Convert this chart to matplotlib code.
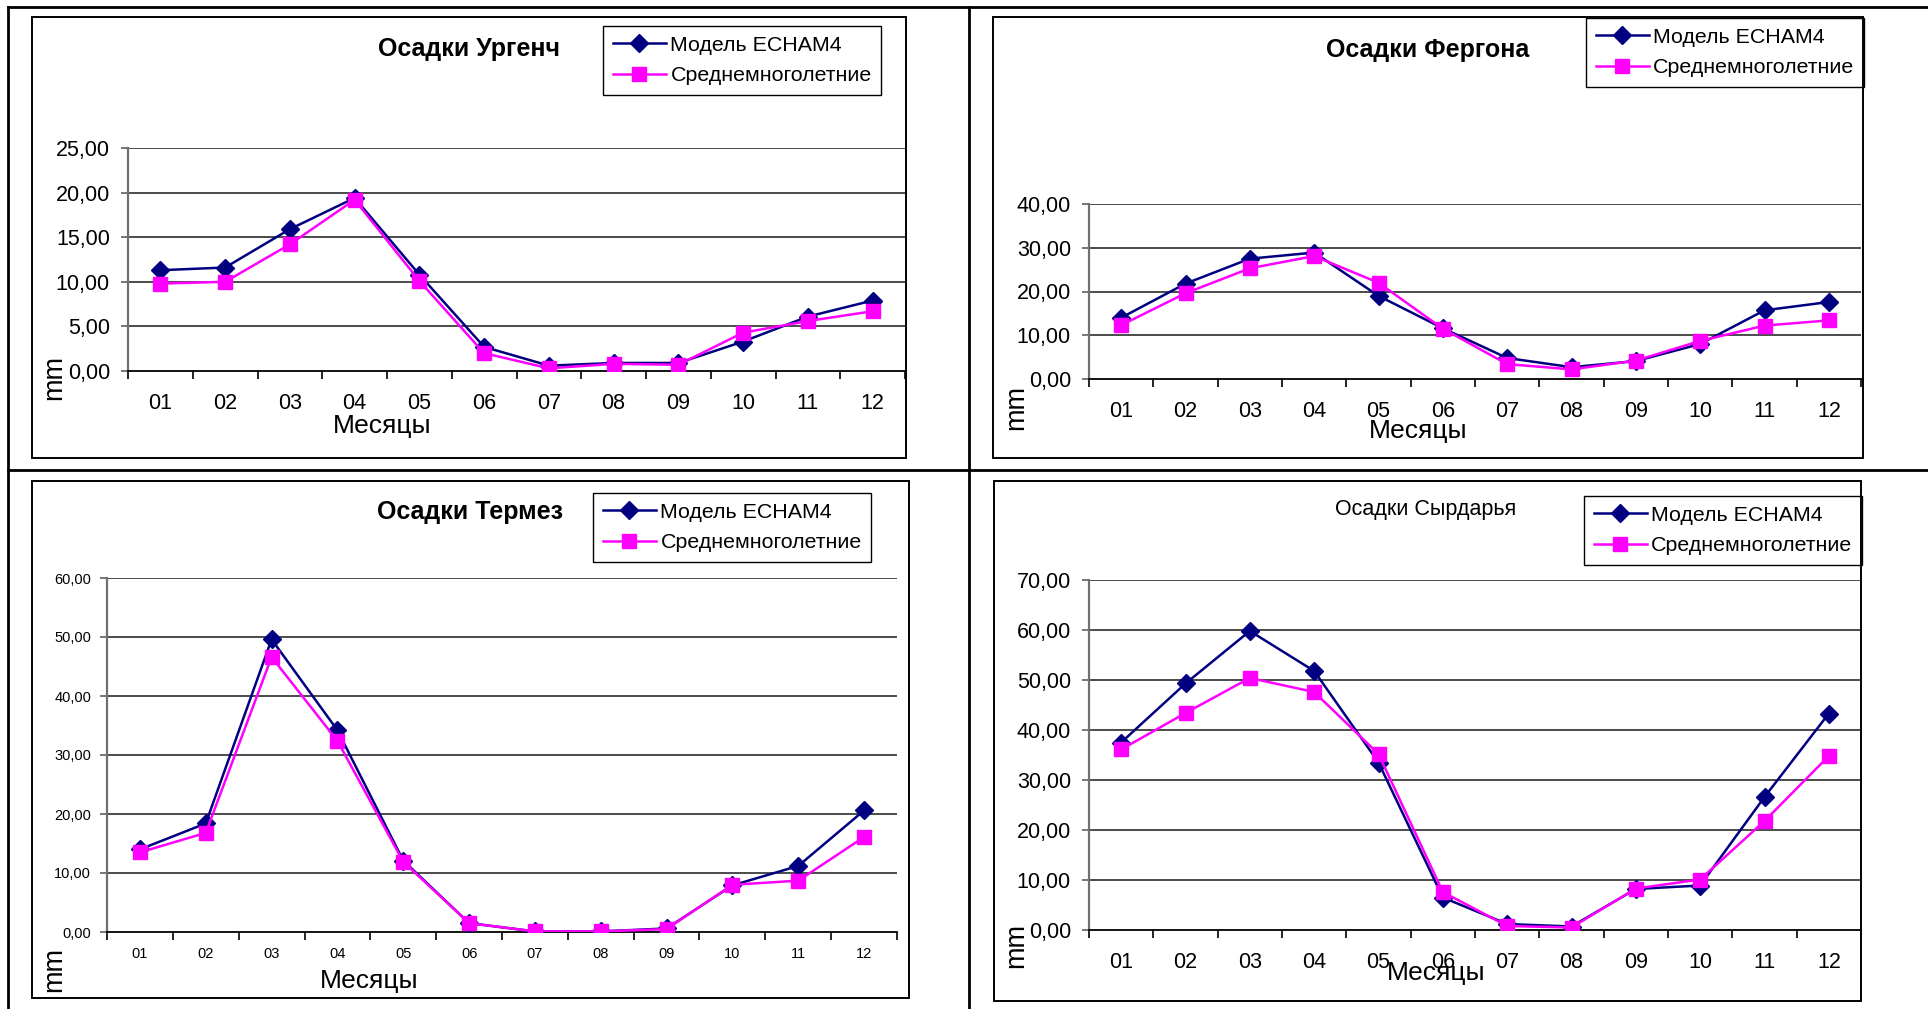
import matplotlib
matplotlib.use("Agg")
import matplotlib.pyplot as plt
from matplotlib.lines import Line2D
from matplotlib.patches import Rectangle
from matplotlib.ticker import FuncFormatter

plt.rcParams['font.family'] = ['Liberation Sans', 'DejaVu Sans']

W, H = 1928, 1009
DPI = 100

months = ["01", "02", "03", "04", "05", "06", "07", "08", "09", "10", "11", "12"]
series_names = ["Модель ECHAM4", "Среднемноголетние"]

urgench_model = [11.3, 11.6, 15.9, 19.4, 10.8, 2.7, 0.6, 0.9, 0.9, 3.3, 6.1, 7.9]
urgench_mean = [9.8, 10.0, 14.2, 19.2, 10.1, 2.0, 0.3, 0.8, 0.7, 4.3, 5.6, 6.7]

fergona_model = [14.0, 21.8, 27.5, 28.9, 19.0, 11.6, 4.8, 2.7, 4.1, 8.0, 15.7, 17.6]
fergona_mean = [12.3, 19.6, 25.3, 28.1, 22.0, 11.5, 3.4, 2.2, 4.2, 8.7, 12.2, 13.4]

termez_model = [14.0, 18.4, 49.6, 34.2, 12.1, 1.5, 0.1, 0.1, 0.6, 7.9, 11.2, 20.6]
termez_mean = [13.5, 16.8, 46.6, 32.4, 11.9, 1.5, 0.1, 0.1, 0.5, 8.0, 8.7, 16.1]

syrdarya_model = [37.5, 49.3, 59.8, 51.8, 33.5, 6.5, 1.2, 0.7, 8.2, 8.9, 26.6, 43.3]
syrdarya_mean = [36.1, 43.4, 50.4, 47.6, 35.2, 7.6, 0.8, 0.5, 8.3, 10.1, 21.8, 34.8]

fig = plt.figure(figsize=(W / DPI, H / DPI), dpi=DPI)
fig.patch.set_facecolor("white")


def fx(x):
    return x / W


def fy(y):
    return 1 - y / H


def hline(y, x0, x1, lw=2.0, color="black"):
    fig.add_artist(Line2D([fx(x0), fx(x1)], [fy(y), fy(y)], transform=fig.transFigure,
                          color=color, lw=lw))


def vline(x, y0, y1, lw=2.0, color="black"):
    fig.add_artist(Line2D([fx(x), fx(x)], [fy(y0), fy(y1)], transform=fig.transFigure,
                          color=color, lw=lw))


# table grid around the four charts
hline(7, 8, W)
hline(470, 8, W)
vline(8, 7, H)
vline(969, 7, H)


def frame(l, t, r, b):
    fig.add_artist(Rectangle((fx(l), fy(b)), fx(r) - fx(l), fy(t) - fy(b),
                             transform=fig.transFigure, fill=False,
                             edgecolor="black", lw=1.4))


def panel(box, plot, ymax, ystep, model, mean, title, title_xy, title_bold,
          legend_xy, xlab_xy, mm_xy, tick_fs, ypad, xpad):
    frame(*box)
    l, t, r, b = plot
    ax = fig.add_axes([fx(l), fy(b), fx(r) - fx(l), fy(t) - fy(b)])
    x = list(range(len(months)))
    ax.plot(x, model, color="#000080", lw=1.8, marker="D", ms=9,
            markeredgecolor="#000080", markerfacecolor="#000080",
            label=series_names[0], zorder=3)
    ax.plot(x, mean, color="#FF00FF", lw=1.8, marker="s", ms=10,
            markeredgecolor="#FF00FF", markerfacecolor="#FF00FF",
            label=series_names[1], zorder=4)
    ax.set_xlim(-0.5, len(months) - 0.5)
    ax.set_ylim(0, ymax)
    yt = [i * ystep for i in range(int(round(ymax / ystep)) + 1)]
    ax.set_yticks(yt)
    ax.yaxis.set_major_formatter(FuncFormatter(lambda v, p: f"{v:.2f}".replace(".", ",")))
    ax.set_xticks(x)
    ax.set_xticklabels(months)
    ax.set_xticks([i - 0.5 for i in range(len(months) + 1)], minor=True)
    ax.tick_params(axis="x", which="major", length=0, labelsize=tick_fs, pad=xpad)
    ax.tick_params(axis="x", which="minor", length=6, width=1.2, direction="out",
                   color="black")
    ax.tick_params(axis="y", length=5, width=1.2, direction="out", color="#606060",
                   labelsize=tick_fs, pad=ypad)
    for v in yt[1:]:
        ax.axhline(v, color="#1a1a1a", lw=1.1, zorder=1)
    ax.spines["top"].set_visible(False)
    ax.spines["right"].set_visible(False)
    ax.spines["left"].set_color("#707070")
    ax.spines["left"].set_linewidth(1.6)
    ax.spines["bottom"].set_color("black")
    ax.spines["bottom"].set_linewidth(1.3)
    ax.patch.set_alpha(0)

    fig.text(fx(title_xy[0]), fy(title_xy[1]), title, ha="center", va="center",
             fontsize=18 if title_bold else 15.5,
             fontweight="bold" if title_bold else "normal")
    fig.text(fx(xlab_xy[0]), fy(xlab_xy[1]), "Месяцы", ha="center", va="center",
             fontsize=19)
    fig.text(fx(mm_xy[0]), fy(mm_xy[1]), "mm", ha="center", va="center",
             fontsize=19.5, rotation=90)

    leg = ax.legend(loc="upper left", bbox_to_anchor=(fx(legend_xy[0]), fy(legend_xy[1])),
                    bbox_transform=fig.transFigure, borderaxespad=0, fontsize=15.4,
                    frameon=True, fancybox=False, framealpha=1, edgecolor="black",
                    handlelength=2.5, handletextpad=0.2, labelspacing=0.55,
                    borderpad=0.45)
    leg.get_frame().set_linewidth(1.0)
    return ax


panel(box=(32, 17, 906, 458), plot=(128, 148, 905, 371), ymax=25, ystep=5,
      model=urgench_model, mean=urgench_mean, title="Осадки Ургенч",
      title_xy=(469, 49), title_bold=True, legend_xy=(603, 26),
      xlab_xy=(382, 426), mm_xy=(54, 377), tick_fs=15.5, ypad=8, xpad=16)

panel(box=(993, 17, 1863, 458), plot=(1089, 204, 1861, 379), ymax=40, ystep=10,
      model=fergona_model, mean=fergona_mean, title="Осадки Фергона",
      title_xy=(1428, 50), title_bold=True, legend_xy=(1586, 18),
      xlab_xy=(1418, 431), mm_xy=(1016, 407), tick_fs=15.5, ypad=8, xpad=16)

panel(box=(32, 481, 909, 998), plot=(107, 578, 897, 932), ymax=60, ystep=10,
      model=termez_model, mean=termez_mean, title="Осадки Термез",
      title_xy=(470, 512), title_bold=True, legend_xy=(593, 493),
      xlab_xy=(369, 981), mm_xy=(54, 970), tick_fs=10.5, ypad=6.5, xpad=11)

panel(box=(994, 481, 1861, 1001), plot=(1089, 580, 1861, 930), ymax=70, ystep=10,
      model=syrdarya_model, mean=syrdarya_mean, title="Осадки Сырдарья",
      title_xy=(1426, 509), title_bold=False, legend_xy=(1584, 496),
      xlab_xy=(1436, 973), mm_xy=(1016, 946), tick_fs=15.5, ypad=8, xpad=16)

fig.savefig("out.png", dpi=DPI, facecolor="white")
